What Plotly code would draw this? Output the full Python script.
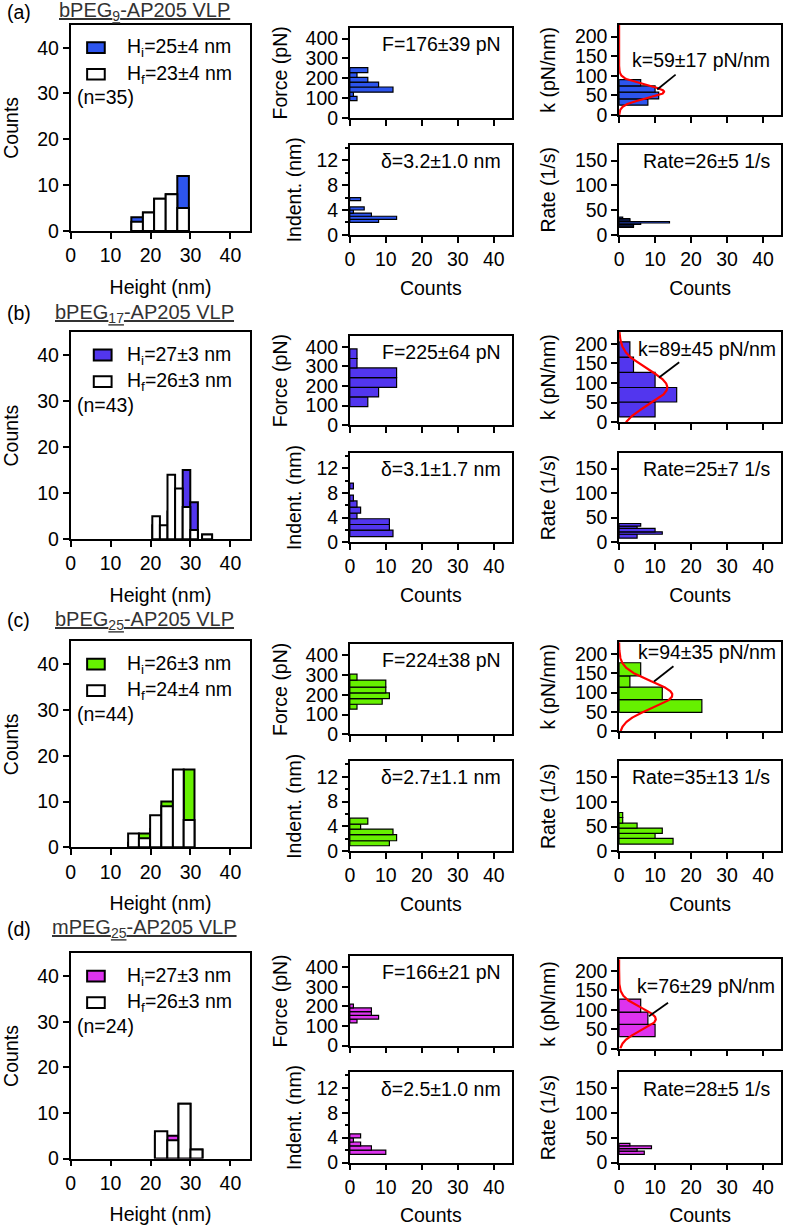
import numpy as np
import plotly.graph_objects as go

W, H = 790, 1232
FONT = "Liberation Sans, Arial, sans-serif"
FS = 19.5

# ---------------- text ----------------
panel_tags = ["(a)", "(b)", "(c)", "(d)"]
sample_titles = ["bPEG<sub>9</sub>-AP205 VLP", "bPEG<sub>17</sub>-AP205 VLP",
                 "bPEG<sub>25</sub>-AP205 VLP", "mPEG<sub>25</sub>-AP205 VLP"]
hi_labels = ["H<sub>i</sub>=25±4 nm", "H<sub>i</sub>=27±3 nm", "H<sub>i</sub>=26±3 nm", "H<sub>i</sub>=27±3 nm"]
hf_labels = ["H<sub>f</sub>=23±4 nm", "H<sub>f</sub>=26±3 nm", "H<sub>f</sub>=24±4 nm", "H<sub>f</sub>=26±3 nm"]
n_labels = ["(n=35)", "(n=43)", "(n=44)", "(n=24)"]
force_labels = ["F=176±39 pN", "F=225±64 pN", "F=224±38 pN", "F=166±21 pN"]
indent_labels = ["δ=3.2±1.0 nm", "δ=3.1±1.7 nm", "δ=2.7±1.1 nm", "δ=2.5±1.0 nm"]
rate_labels = ["Rate=26±5 1/s", "Rate=25±7 1/s", "Rate=35±13 1/s", "Rate=28±5 1/s"]
k_labels = ["k=59±17 pN/nm", "k=89±45 pN/nm", "k=94±35 pN/nm", "k=76±29 pN/nm"]
colors = ["#2D55EE", "#5236EE", "#66F000", "#DD33EE"]

# ---------------- height histograms (bin edges in nm, counts) ----------------
height_edges_a = [15.2, 18.1, 20.9, 23.8, 26.7, 29.6]
hi_counts_a = [3, 4, 7, 8, 12]
hf_counts_a = [2, 4, 7, 8, 5]

height_edges_b = [20.45, 22.35, 24.25, 26.15, 28.05, 29.95, 31.85, 32.9, 35.4]
hi_counts_b = [3, 2, 6, 8, 15, 8, 0, 1]
hf_counts_b = [5, 3, 14, 11, 7, 2, 0, 1]

height_edges_c = [14.4, 17.1, 19.9, 22.7, 25.6, 28.3, 31.0]
hi_counts_c = [1, 3, 4, 10, 9, 17]
hf_counts_c = [3, 2, 7, 9, 17, 6]

height_edges_d = [21.1, 24.2, 27.0, 30.0, 33.0]
hi_counts_d = [5, 5, 12, 2]
hf_counts_d = [6, 4, 12, 2]

# ---------------- force (pN) ----------------
force_edges_a = [87, 109, 130, 156, 181, 205, 229, 254]
force_counts_a = [2, 1, 12, 8, 5, 2, 5]
force_edges_b = [95, 144, 193, 243, 292, 340, 389]
force_counts_b = [5, 8, 13, 13, 2, 2]
force_edges_c = [127, 152, 180, 209, 238, 274, 304]
force_counts_c = [2, 9, 11, 10, 10, 2]
force_edges_d = [116, 135, 154, 173, 192, 211]
force_counts_d = [2, 8, 6, 6, 1]

# ---------------- indentation (nm) ----------------
indent_edges_a = [2.0, 2.5, 3.0, 3.5, 4.0, 4.5, 5.0, 5.5, 6.0]
indent_counts_a = [8, 13, 6, 1, 4, 0, 0, 3]
indent_edges_b = [0.9, 1.96, 2.86, 3.8, 4.7, 5.7, 6.7, 7.65, 8.65, 9.6]
indent_counts_b = [12, 11, 11, 2, 3, 2, 1, 0, 1]
indent_edges_c = [0.9, 1.7, 2.67, 3.57, 4.37, 5.33]
indent_counts_c = [11, 13, 12, 3, 5]
indent_edges_d = [1.3, 2.0, 2.68, 3.3, 3.95, 4.6]
indent_counts_d = [10, 6, 3, 1, 3]

# ---------------- spring constant k (pN/nm) ----------------
k_edges_a = [25, 41, 58, 74, 90]
k_counts_a = [8, 11, 10, 6]
k_edges_b = [13.5, 51.5, 88.5, 127, 166, 205]
k_counts_b = [10, 16, 10, 4, 3]
k_edges_c = [49, 82, 114, 143, 177]
k_counts_c = [23, 12, 3, 6]
k_edges_d = [31, 62.5, 94, 127.5]
k_counts_d = [10, 8, 6]

# Gaussian fits of k: mean, sigma, amplitude (counts)
k_fit_mean = [59, 89, 94, 76]
k_fit_sigma = [17, 45, 35, 29]
k_fit_amp = [12.5, 13.4, 14.8, 10.2]

# ---------------- rate (1/s) ----------------
rate_edges_a = [15, 18, 21, 24, 27, 30, 33, 36]
rate_counts_a = [4, 4, 6, 14, 3, 3, 1]
rate_edges_b = [8, 16, 21, 28, 32.5, 38]
rate_counts_b = [5, 12, 10, 5, 6]
rate_edges_c = [14.7, 26.1, 36.2, 46.9, 56.9, 68.3, 78.4]
rate_counts_c = [15, 10, 12, 5, 1, 1]
rate_edges_d = [16.6, 23.2, 27.9, 33.8, 38.5]
rate_counts_d = [7, 5, 9, 3]

height_data = [(height_edges_a, hi_counts_a, hf_counts_a), (height_edges_b, hi_counts_b, hf_counts_b),
               (height_edges_c, hi_counts_c, hf_counts_c), (height_edges_d, hi_counts_d, hf_counts_d)]
force_data = [(force_edges_a, force_counts_a), (force_edges_b, force_counts_b),
              (force_edges_c, force_counts_c), (force_edges_d, force_counts_d)]
indent_data = [(indent_edges_a, indent_counts_a), (indent_edges_b, indent_counts_b),
               (indent_edges_c, indent_counts_c), (indent_edges_d, indent_counts_d)]
k_data = [(k_edges_a, k_counts_a), (k_edges_b, k_counts_b), (k_edges_c, k_counts_c), (k_edges_d, k_counts_d)]
rate_data = [(rate_edges_a, rate_counts_a), (rate_edges_b, rate_counts_b),
             (rate_edges_c, rate_counts_c), (rate_edges_d, rate_counts_d)]

# ---------------- layout geometry (pixels) ----------------
boxes = {
    "H": [(66, 247, 25, 233), (66, 247, 335, 544), (66, 247, 647, 855), (66, 247, 962, 1169)],
    "F": [(347, 510, 28, 119), (347, 510, 339, 429), (347, 510, 650, 741), (347, 510, 965, 1055)],
    "I": [(347, 510, 146, 237), (347, 510, 457, 547), (347, 510, 768, 859), (347, 510, 1082, 1173)],
    "K": [(618, 781, 25, 116), (618, 781, 335, 426), (618, 781, 648, 738), (618, 781, 968, 1058)],
    "R": [(618, 781, 146, 237), (618, 781, 457, 547), (618, 781, 768, 859), (618, 781, 1082, 1173)],
}
title_y = [12, 316, 626, 937]
swatch_x = [(0.092, 0.19), (0.129, 0.228), (0.092, 0.19), (0.092, 0.19)]
k_text_pos = [(22.7, 139), (24.5, 187), (24.5, 204), (24.1, 161)]
k_arrow = [((15.7, 103), (10.6, 65)), ((16.7, 153), (11.1, 114)),
           ((15.1, 168), (9.7, 128.6)), ((13.6, 118), (8.3, 83.3))]

yranges = {"H": 45, "F": 455, "I": 14.5, "K": 230, "R": 182}
ytitles = {"H": "Counts", "F": "Force (pN)", "I": "Indent. (nm)", "K": "k (pN/nm)", "R": "Rate (1/s)"}
ydticks = {"H": 10, "F": 100, "I": 4, "K": 50, "R": 50}
ystandoff = {"H": 17, "F": 13, "I": 10, "K": 14, "R": 14}
order = ["H", "F", "I", "K", "R"]


def cw(edges):
    e = np.asarray(edges, float)
    return (e[:-1] + e[1:]) / 2, np.diff(e)


fig = go.Figure()
layout = dict(width=W, height=H, autosize=False, margin=dict(l=0, r=0, t=0, b=0),
              paper_bgcolor="white", plot_bgcolor="white", showlegend=False,
              barmode="overlay", font=dict(family=FONT, size=FS, color="black"))
annotations, shapes = [], []

axis_common = dict(showline=True, linecolor="black", linewidth=1.5, mirror=True,
                   ticks="outside", ticklen=6, tickwidth=1.5, tickcolor="black",
                   showgrid=False, zeroline=False, fixedrange=True,
                   tickfont=dict(family=FONT, size=FS, color="black"))

for r in range(4):
    for p_i, p in enumerate(order):
        idx = r * 5 + p_i + 1
        sfx = "" if idx == 1 else str(idx)
        xr, yr = "x" + sfx, "y" + sfx
        x0, x1, y0, y1 = boxes[p][r]
        xa = dict(axis_common, domain=[x0 / W, x1 / W], anchor=yr, range=[0, 45],
                  tickmode="linear", tick0=0, dtick=10)
        ya = dict(axis_common, domain=[1 - y1 / H, 1 - y0 / H], anchor=xr,
                  range=[0, yranges[p]], tickmode="linear", tick0=0, dtick=ydticks[p],
                  title=dict(text=ytitles[p], standoff=ystandoff[p], font=dict(family=FONT, size=FS)))
        if p == "I":
            ya["minor"] = dict(dtick=2, tick0=0, ticks="outside", ticklen=3, tickwidth=1.5,
                               tickcolor="black", showgrid=False)
        if p in ("F", "K"):
            xa["showticklabels"] = False
        elif p == "H":
            xa["title"] = dict(text="Height (nm)", standoff=15, font=dict(family=FONT, size=FS))
        else:
            xa["title"] = dict(text="Counts", standoff=12, font=dict(family=FONT, size=FS))
        layout["xaxis" + sfx] = xa
        layout["yaxis" + sfx] = ya

        col = colors[r]
        if p == "H":
            edges, hi, hf = height_data[r]
            c, w = cw(edges)
            for counts, fill in ((hi, col), (hf, "white")):
                counts = np.asarray(counts)
                m = counts > 0
                fig.add_trace(go.Bar(x=c[m], y=counts[m], width=w[m], xaxis=xr, yaxis=yr,
                                     marker=dict(color=fill, line=dict(color="black", width=2))))
            sx0, sx1 = swatch_x[r]
            for fill, yc, txt in ((col, 0.889, hi_labels[r]), ("white", 0.76, hf_labels[r])):
                shapes.append(dict(type="rect", xref=f"{xr} domain", yref=f"{yr} domain",
                                   x0=sx0, x1=sx1, y0=yc - 0.026, y1=yc + 0.026,
                                   fillcolor=fill, line=dict(color="black", width=2)))
                annotations.append(dict(text=txt, xref=f"{xr} domain", yref=f"{yr} domain",
                                        x=0.302, y=yc, xanchor="left", yanchor="middle",
                                        showarrow=False, font=dict(family=FONT, size=FS)))
            annotations.append(dict(text=n_labels[r], xref=f"{xr} domain", yref=f"{yr} domain",
                                    x=0.025, y=0.648, xanchor="left", yanchor="middle",
                                    showarrow=False, font=dict(family=FONT, size=FS)))
            annotations.append(dict(text=panel_tags[r], xref="paper", yref="paper", x=0, y=1 - title_y[r] / H,
                                    xanchor="left", yanchor="middle", showarrow=False,
                                    font=dict(family=FONT, size=FS)))
            annotations.append(dict(text="<u>" + sample_titles[r] + "</u>", xref="paper", yref="paper",
                                    x=140 / W, y=1 - title_y[r] / H, xanchor="center", yanchor="middle",
                                    showarrow=False, font=dict(family=FONT, size=20, color="#333333")))
        else:
            edges, counts = {"F": force_data, "I": indent_data, "K": k_data, "R": rate_data}[p][r]
            c, w = cw(edges)
            counts = np.asarray(counts)
            m = counts > 0
            fig.add_trace(go.Bar(y=c[m], x=counts[m], width=w[m], orientation="h", xaxis=xr, yaxis=yr,
                                 marker=dict(color=col, line=dict(color="black", width=1.2))))
            if p == "K":
                yy = np.linspace(0, yranges["K"], 300)
                xx = k_fit_amp[r] * np.exp(-(yy - k_fit_mean[r]) ** 2 / (2 * k_fit_sigma[r] ** 2))
                fig.add_trace(go.Scatter(x=xx, y=yy, mode="lines", xaxis=xr, yaxis=yr,
                                         line=dict(color="#FF0000", width=2.2)))
                (ax0, ay0), (ax1, ay1) = k_arrow[r]
                shapes.append(dict(type="line", xref=xr, yref=yr, x0=ax0, y0=ay0, x1=ax1, y1=ay1,
                                   line=dict(color="black", width=1.8)))
                tx, ty = k_text_pos[r]
                annotations.append(dict(text=k_labels[r], xref=xr, yref=yr, x=tx, y=ty,
                                        xanchor="center", yanchor="middle", showarrow=False,
                                        font=dict(family=FONT, size=FS)))
            else:
                txt = {"F": force_labels, "I": indent_labels, "R": rate_labels}[p][r]
                annotations.append(dict(text=txt, xref=f"{xr} domain", yref=f"{yr} domain",
                                        x=0.945, y=0.82, xanchor="right", yanchor="middle",
                                        showarrow=False, font=dict(family=FONT, size=FS)))

layout["annotations"] = annotations
layout["shapes"] = shapes
fig.update_layout(**layout)
fig.write_html("out.html", config={"displayModeBar": False},
               post_script="document.body.style.margin='0px';")
